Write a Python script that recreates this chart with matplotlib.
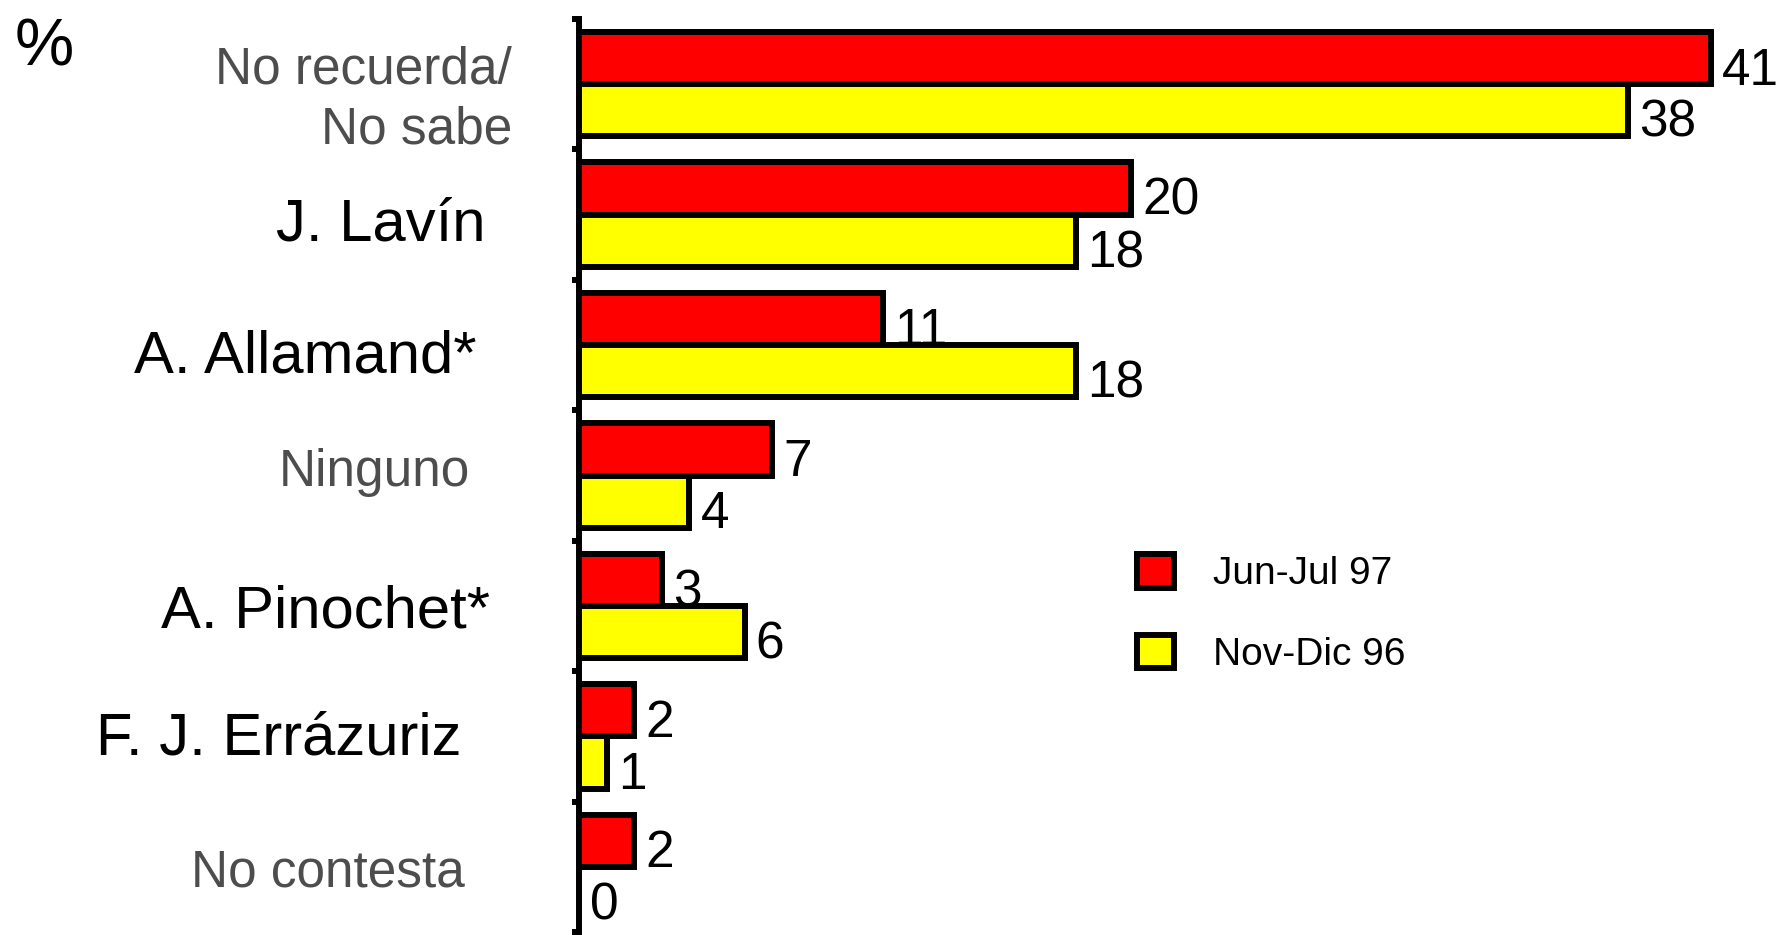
import matplotlib.pyplot as plt
import numpy as np
from matplotlib.patches import Patch

plt.rcParams['font.family'] = ['Liberation Sans', 'DejaVu Sans']

categories = ['No recuerda/\nNo sabe', 'J. Lavín', 'A. Allamand*', 'Ninguno',
              'A. Pinochet*', 'F. J. Errázuriz', 'No contesta']
jun_jul_97 = [41, 20, 11, 7, 3, 2, 2]
nov_dic_96 = [38, 18, 18, 4, 6, 1, 0]
series_names = ['Jun-Jul 97', 'Nov-Dic 96']

# label styling (gray for the non-candidate answers)
label_colors = ['#4d4d4d', 'black', 'black', '#4d4d4d', 'black', 'black', '#4d4d4d']
label_sizes = [37, 43, 43, 37, 43, 43, 37]
label_right_px = [512, 485, 476, 470, 490, 461, 465]
label_dy = [0.12, 0.08, 0.09, -0.02, 0.05, 0.02, 0.05]

W, H = 1777, 935
fig = plt.figure(figsize=(W / 100, H / 100), dpi=100)
ax_left, ax_bottom, ax_top = 579, 932, 19
ax = fig.add_axes([ax_left / W, 1 - ax_bottom / H, (W - ax_left) / W, (ax_bottom - ax_top) / H])

lw = 4.3
y = np.arange(len(categories))
h = 0.4
ax.barh(y - h / 2, jun_jul_97, height=h, color='#ff0000', edgecolor='black', linewidth=lw)
ax.barh(y + h / 2, nov_dic_96, height=h, color='#ffff00', edgecolor='black', linewidth=lw)

for i in range(len(categories)):
    ax.annotate(str(jun_jul_97[i]), (jun_jul_97[i], y[i] - h / 2), xytext=(8, -19),
                textcoords='offset points', va='baseline', ha='left', fontsize=37)
    ax.annotate(str(nov_dic_96[i]), (nov_dic_96[i], y[i] + h / 2), xytext=(8, -19),
                textcoords='offset points', va='baseline', ha='left', fontsize=37)

ax.set_xlim(0, (W - ax_left) / 27.6)
ax.set_ylim(len(categories) - 0.5, -0.5)

for s in ['top', 'right', 'bottom']:
    ax.spines[s].set_visible(False)
ax.spines['left'].set_linewidth(lw)
ax.set_xticks([])
ax.set_yticks(np.arange(-0.5, len(categories), 1.0))
ax.set_yticklabels([])
ax.tick_params(axis='y', direction='out', length=5, width=lw)

trans = ax.get_yaxis_transform()
ax_w = W - ax_left
for i, lab in enumerate(categories):
    ax.text((label_right_px[i] - ax_left) / ax_w, y[i] + label_dy[i], lab,
            transform=trans, ha='right', va='center', fontsize=label_sizes[i],
            color=label_colors[i], linespacing=1.3, multialignment='right', clip_on=False)

fig.text(15 / W, 1 - 48 / H, '%', fontsize=48, va='center', ha='left')

handles = [Patch(facecolor='#ff0000', edgecolor='black', linewidth=lw),
           Patch(facecolor='#ffff00', edgecolor='black', linewidth=lw)]
ax.legend(handles, series_names, loc='upper left', bbox_to_anchor=(1102 / W, 1 - 519 / H),
          bbox_transform=fig.transFigure, frameon=False, fontsize=28,
          handlelength=0.95, handleheight=0.95, handletextpad=1.0, labelspacing=1.1)

fig.savefig('out.png', dpi=100)
